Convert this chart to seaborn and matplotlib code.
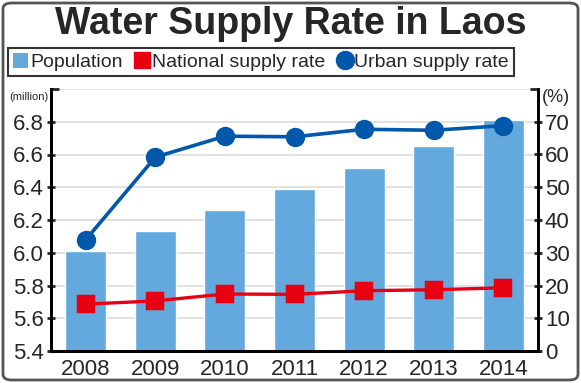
import numpy as np
import pandas as pd
import matplotlib
matplotlib.use("Agg")
import matplotlib.pyplot as plt
from matplotlib.patches import FancyBboxPatch, Patch
from matplotlib.lines import Line2D
import seaborn as sns

# DATOS

years = ["2008", "2009", "2010", "2011", "2012", "2013", "2014"]
population = [6.01, 6.135, 6.26, 6.39, 6.52, 6.65, 6.81]       # millones
national_rate = [14.3, 15.3, 17.4, 17.3, 18.4, 18.7, 19.3]      # %
urban_rate = [34.0, 59.2, 65.6, 65.4, 67.7, 67.4, 68.8]         # %

left_ticks = [5.4, 5.6, 5.8, 6.0, 6.2, 6.4, 6.6, 6.8]
right_ticks = [0, 10, 20, 30, 40, 50, 60, 70]

BAR_COLOR = "#64a9dd"
RED = "#e60012"
BLUE = "#0058ab"

df = pd.DataFrame({
    "year": years,
    "population": population,
    "national": national_rate,
    "urban": urban_rate,
})

# FIGURA

sns.set_style("white")
plt.rcParams["font.family"] = ["Liberation Sans", "DejaVu Sans"]

fig = plt.figure(figsize=(5.81, 3.83), dpi=100)
ax = fig.add_axes([51 / 581, 1 - 351 / 383, 487 / 581, 262 / 383])

sns.barplot(data=df, x="year", y="population", color=BAR_COLOR,
            width=0.59, saturation=1, ax=ax, zorder=2)
ax.set_ylim(5.4, 7.0)
ax.set_xlim(-0.5, 6.5)
ax.set_yticks(left_ticks)
ax.set_yticklabels([f"{v:.1f}" for v in left_ticks])
ax.set_yticks([7.0], minor=True)
ax.grid(axis="y", which="both", color="#dcdcdc", linewidth=1.2, zorder=0)
ax.set_axisbelow(True)
ax.set_xlabel("")
ax.set_ylabel("")

ax2 = ax.twinx()
sns.pointplot(data=df, x="year", y="national", color=RED, markers="s",
              markersize=11, linewidth=2.4, ax=ax2)
sns.pointplot(data=df, x="year", y="urban", color=BLUE, markers="o",
              markersize=12, linewidth=2.6, ax=ax2)
ax2.set_ylim(0, 80)
ax2.set_xlim(-0.5, 6.5)
ax2.set_yticks(right_ticks)
ax2.set_yticklabels([str(v) for v in right_ticks])
ax2.set_yticks([80], minor=True)
ax2.set_ylabel("")
ax2.set_xlabel("")

# ejes: solo izquierdo, derecho y base
for a in (ax, ax2):
    a.spines["top"].set_visible(False)
    for s in ("left", "right", "bottom"):
        a.spines[s].set_linewidth(2)
        a.spines[s].set_color("black")

ax.set_xticks(np.arange(len(years)))
ax.set_xticklabels(years)
ax.set_xticks(np.arange(len(years) - 1) + 0.5, minor=True)
ax.tick_params(axis="x", which="major", length=0, labelsize=16, pad=6)
ax.tick_params(axis="x", which="minor", length=5, width=2, direction="out")
for a in (ax, ax2):
    a.tick_params(axis="y", which="major", length=6, width=2, direction="inout",
                  labelsize=16, pad=2)
    a.tick_params(axis="y", which="minor", length=6, width=2, direction="in")

fig.text(9 / 581, 1 - 97 / 383, "(million)", fontsize=8, ha="left", va="center")
fig.text(542 / 581, 1 - 97 / 383, "(%)", fontsize=13, ha="left", va="center")

fig.text(0.5, 1 - 24 / 383, "Water Supply Rate in Laos", fontsize=27,
         fontweight="bold", ha="center", va="center")

handles = [
    Patch(facecolor=BAR_COLOR, edgecolor="none"),
    Line2D([], [], marker="s", color=RED, linestyle="none", markersize=12),
    Line2D([], [], marker="o", color=BLUE, linestyle="none", markersize=13),
]
leg = fig.legend(handles, ["Population", "National supply rate", "Urban supply rate"],
                 loc="center", bbox_to_anchor=(261 / 581, 1 - 62 / 383), ncol=3,
                 fontsize=14, frameon=True, fancybox=False, edgecolor="black",
                 handlelength=0.8, handleheight=0.8, handletextpad=0.1,
                 columnspacing=0.6, borderpad=0.25, borderaxespad=0)
leg.get_frame().set_linewidth(1.5)

frame = FancyBboxPatch((3 / 581, 3 / 383), 575 / 581, 377 / 383,
                       boxstyle="round,pad=0,rounding_size=0.015",
                       transform=fig.transFigure, facecolor="none",
                       edgecolor="#555555", linewidth=2)
fig.patches.append(frame)

fig.savefig("out.png", dpi=100)
